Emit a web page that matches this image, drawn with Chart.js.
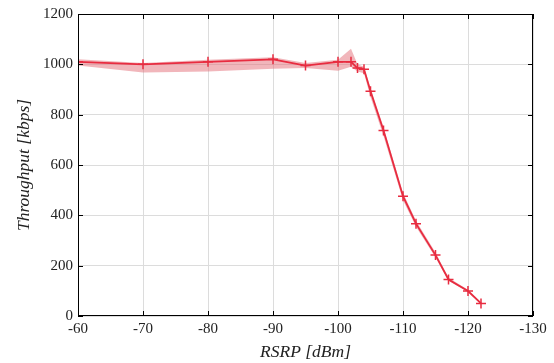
<!DOCTYPE html>
<html>
<head>
<meta charset="utf-8">
<script src="https://cdn.jsdelivr.net/npm/chart.js@4"></script>
<style>
  html, body { margin: 0; padding: 0; background: #fff; }
  #wrap { width: 554px; height: 363px; }
</style>
</head>
<body>
<div id="wrap"><canvas id="chart" width="554" height="363"></canvas></div>
<script>
// datos
const rsrp = [-60, -70, -80, -90, -95, -100, -102, -103, -104, -105, -107, -110, -112, -115, -117, -120, -122];
const throughput = [1010, 1000, 1010, 1020, 995, 1010, 1010, 985, 980, 893, 737, 476, 367, 242, 145, 99, 50];
const bandUpper = [1020, 1005, 1018, 1028, 1005, 1018, 1062, 1000, 990, 905, 750, 490, 378, 252, 152, 104, 55];
const bandLower = [995, 968, 972, 982, 985, 975, 990, 972, 965, 870, 715, 460, 355, 232, 140, 95, 47];
const xTicks = [-60, -70, -80, -90, -100, -110, -120, -130];
const yTicks = [0, 200, 400, 600, 800, 1000, 1200];

const toXY = (ys) => rsrp.map((x, i) => ({ x: x, y: ys[i] }));

const lineColor = 'rgb(232, 44, 64)';
const bandColor = 'rgba(228, 110, 120, 0.5)';
const fontFam = "'Liberation Serif', 'Times New Roman', serif";

// marco tipo matlab con ticks hacia adentro
const frame = {
    id: 'frame',
    afterDraw(chart) {
        const { ctx, chartArea: { left, right, top, bottom }, scales: { x, y } } = chart;
        ctx.save();
        ctx.strokeStyle = '#000';
        ctx.lineWidth = 1;
        ctx.strokeRect(left + 0.5, top + 0.5, right - left - 1, bottom - top - 1);
        ctx.beginPath();
        const t = 5;
        xTicks.forEach(v => {
            const px = Math.round(x.getPixelForValue(v)) + 0.5;
            ctx.moveTo(px, bottom); ctx.lineTo(px, bottom - t);
            ctx.moveTo(px, top); ctx.lineTo(px, top + t);
        });
        yTicks.forEach(v => {
            const py = Math.round(y.getPixelForValue(v)) + 0.5;
            ctx.moveTo(left, py); ctx.lineTo(left + t, py);
            ctx.moveTo(right, py); ctx.lineTo(right - t, py);
        });
        ctx.stroke();
        ctx.restore();
    }
};

const config = {
    type: 'line',
    data: {
        datasets: [{
            data: toXY(bandUpper),
            borderWidth: 0,
            pointRadius: 0,
            backgroundColor: bandColor,
            fill: '+1',
            order: 2
        }, {
            data: toXY(bandLower),
            borderWidth: 0,
            pointRadius: 0,
            backgroundColor: bandColor,
            fill: false,
            order: 2
        }, {
            data: toXY(throughput),
            borderColor: lineColor,
            borderWidth: 1.8,
            pointStyle: 'cross',
            pointRadius: 5,
            pointBorderColor: lineColor,
            pointBorderWidth: 1.5,
            fill: false,
            order: 1
        }]
    },
    options: {
        animation: false,
        responsive: false,
        layout: { padding: { top: 13, right: 21, bottom: 0, left: 0 } },
        plugins: { legend: { display: false }, tooltip: { enabled: false } },
        scales: {
            x: {
                type: 'linear',
                min: -130,
                max: -60,
                reverse: true,
                afterBuildTicks(axis) { axis.ticks = xTicks.map(v => ({ value: v })); },
                afterFit(axis) { axis.height = 47; },
                grid: { color: '#dcdcdc', drawTicks: false },
                border: { display: false },
                ticks: {
                    padding: 4,
                    color: '#222',
                    font: { family: fontFam, size: 15 },
                    maxRotation: 0,
                    callback: (v) => String(v)
                },
                title: {
                    display: true,
                    text: 'RSRP [dBm]',
                    color: '#222',
                    padding: { top: 0, bottom: 0 },
                    font: { family: fontFam, size: 17.5, style: 'italic' }
                }
            },
            y: {
                min: 0,
                max: 1200,
                afterBuildTicks(axis) { axis.ticks = yTicks.map(v => ({ value: v })); },
                afterFit(axis) { axis.width = 78; },
                grid: { color: '#dcdcdc', drawTicks: false },
                border: { display: false },
                ticks: {
                    padding: 5,
                    color: '#222',
                    font: { family: fontFam, size: 15 },
                    callback: (v) => String(v)
                },
                title: {
                    display: true,
                    text: 'Throughput [kbps]',
                    color: '#222',
                    padding: { top: 14, bottom: 0 },
                    font: { family: fontFam, size: 17.5, style: 'italic' }
                }
            }
        }
    },
    plugins: [frame]
};

var myChart = new Chart(document.getElementById('chart'), config);
</script>
</body>
</html>
